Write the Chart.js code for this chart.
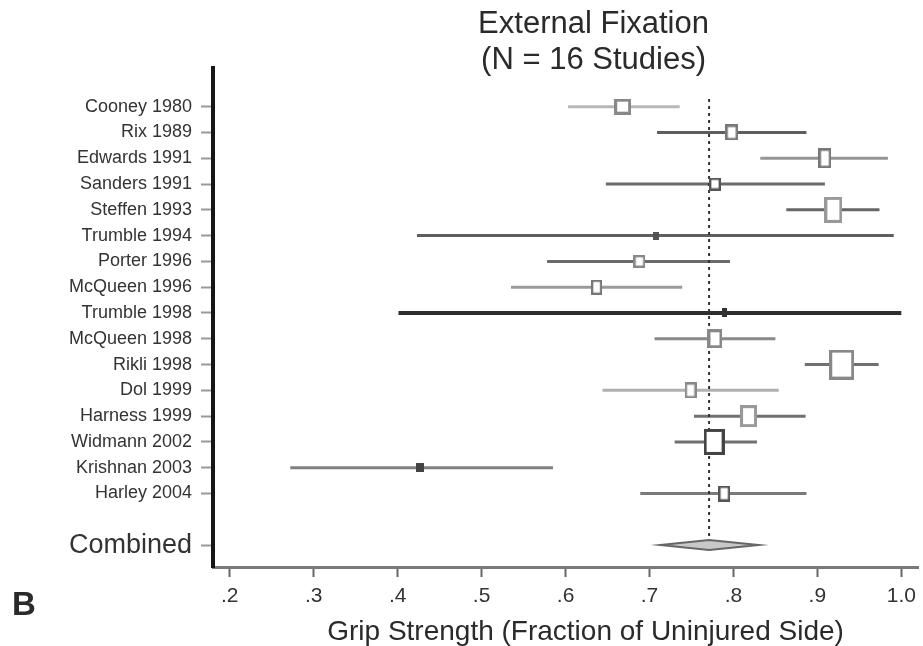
<!DOCTYPE html>
<html><head><meta charset="utf-8">
<script src="https://cdn.jsdelivr.net/npm/chart.js@4.4.1/dist/chart.umd.min.js"></script>
<style>html,body{margin:0;padding:0;background:#fff;}canvas{display:block;}</style>
</head><body>
<canvas id="c" width="923" height="646"></canvas>
<script>
// ---- data ----
const studies = ['Cooney 1980','Rix 1989','Edwards 1991','Sanders 1991','Steffen 1993','Trumble 1994','Porter 1996','McQueen 1996','Trumble 1998','McQueen 1998','Rikli 1998','Dol 1999','Harness 1999','Widmann 2002','Krishnan 2003','Harley 2004'];
const estimate = [0.668,0.798,0.909,0.778,0.919,0.708,0.688,0.637,0.789,0.778,0.929,0.749,0.818,0.777,0.427,0.789];
const lower    = [0.603,0.709,0.832,0.648,0.863,0.423,0.578,0.535,0.401,0.706,0.885,0.644,0.753,0.730,0.272,0.689];
const upper    = [0.736,0.887,0.984,0.909,0.974,0.991,0.796,0.739,1.000,0.850,0.973,0.854,0.886,0.828,0.585,0.887];
const combinedLabel = 'Combined';
const combinedValues = [0.713, 0.771, 0.830]; // lower, estimate, upper
const xTickValues = [0.2,0.3,0.4,0.5,0.6,0.7,0.8,0.9,1.0];
const xTickLabels = ['.2','.3','.4','.5','.6','.7','.8','.9','1.0'];
const titleLines = ['External Fixation','(N = 16 Studies)'];
const xAxisTitle = 'Grip Strength (Fraction of Uninjured Side)';
const panelLabel = 'B';

// ---- styles ----
const lineColors = ['#b8b8b8','#5e5e5e','#959595','#6a6a6a','#666666','#5e5e5e','#6a6a6a','#9a9a9a','#2e2e2e','#8a8a8a','#707070','#b0b0b0','#707070','#707070','#808080','#7a7a7a'];
const lineWidths = [3,3,3,3,3,3,3,3,4,3,3,3,3,3,3,3];
const boxW = [17,13,13,12,18,6,12,11,5,15,25,12,17,21,8,12];
const boxH = [16,16,20,13,26,8,13,15,9,19,30,16,22,26,9,16];
const boxStroke = ['#888','#777','#777','#555','#999','#555','#888','#777','#333','#888','#888','#888','#999','#444','#444','#555'];
const boxFill = ['#fff','#fff','#fff','#fff','#fff','#555','#fff','#fff','#333','#fff','#fff','#fff','#fff','#fff','#444','#fff'];
const FONT = '"Liberation Sans", Arial, sans-serif';
const combinedRow = studies.length + 1;

function makeBox(w, h, stroke, fill) {
  const c = document.createElement('canvas');
  c.width = w; c.height = h;
  const g = c.getContext('2d');
  const lw = Math.min(3, Math.max(1.5, Math.min(w, h) / 5));
  g.fillStyle = fill; g.fillRect(0, 0, w, h);
  g.strokeStyle = stroke; g.lineWidth = lw;
  g.strokeRect(lw / 2, lw / 2, w - lw, h - lw);
  return c;
}
const boxStyles = studies.map((s, i) => makeBox(boxW[i], boxH[i], boxStroke[i], boxFill[i]));

const ciDatasets = studies.map((s, i) => ({
  type: 'scatter', label: s + ' CI', showLine: true,
  data: [{x: lower[i], y: i}, {x: upper[i], y: i}],
  borderColor: lineColors[i], borderWidth: lineWidths[i], pointRadius: 0, order: 2
}));

const refLine = {
  type: 'scatter', label: 'combined estimate', showLine: true,
  data: [{x: combinedValues[1], y: -0.3}, {x: combinedValues[1], y: combinedRow}],
  borderColor: '#333', borderWidth: 2, borderDash: [3, 4], pointRadius: 0, order: 1
};

const boxes = {
  type: 'scatter', label: 'estimates',
  data: estimate.map((v, i) => ({x: v, y: i})),
  pointStyle: boxStyles, pointRadius: 3, pointHoverRadius: 3, order: 0
};

const drawExtras = {
  id: 'extras',
  afterDatasetsDraw(chart) {
    const {ctx, scales: {x, y}} = chart;
    const yc = y.getPixelForValue(combinedRow);
    const xl = x.getPixelForValue(combinedValues[0]);
    const xm = x.getPixelForValue(combinedValues[1]);
    const xh = x.getPixelForValue(combinedValues[2]);
    ctx.save();
    ctx.beginPath();
    ctx.moveTo(xl, yc); ctx.lineTo(xm, yc - 5); ctx.lineTo(xh, yc); ctx.lineTo(xm, yc + 5); ctx.closePath();
    ctx.fillStyle = '#c8c8c8'; ctx.fill();
    ctx.strokeStyle = '#666'; ctx.lineWidth = 2; ctx.stroke();
    ctx.restore();
  },
  afterDraw(chart) {
    const {ctx, chartArea} = chart;
    ctx.save();
    ctx.fillStyle = '#2a2a2a';
    ctx.textAlign = 'center'; ctx.textBaseline = 'middle';
    const cx = (chartArea.left + chartArea.right) / 2 + 28;
    ctx.font = '31px ' + FONT;
    titleLines.forEach((t, i) => ctx.fillText(t, cx, 24 + i * 36));
    ctx.font = '28px ' + FONT;
    ctx.fillText(xAxisTitle, (chartArea.left + chartArea.right) / 2 + 20, 632);
    ctx.textAlign = 'left';
    ctx.font = 'bold 33px ' + FONT;
    ctx.fillText(panelLabel, 12, 606);
    ctx.restore();
  }
};

new Chart(document.getElementById('c'), {
  type: 'scatter',
  data: {datasets: [boxes, refLine, ...ciDatasets]},
  options: {
    responsive: false, animation: false, devicePixelRatio: 1,
    layout: {padding: {top: 68, right: 1, bottom: 0, left: 0}},
    plugins: {legend: {display: false}, tooltip: {enabled: false}, title: {display: false}},
    scales: {
      x: {
        type: 'linear', min: 0.18, max: 1.02,
        afterBuildTicks: (s) => { s.ticks = xTickValues.map(v => ({value: v})); },
        afterFit: (s) => { s.height = 646 - 567; },
        ticks: {
          autoSkip: false, maxRotation: 0, padding: 7, color: '#333',
          font: {family: FONT, size: 21},
          callback: (v) => xTickLabels[xTickValues.findIndex(t => Math.abs(t - v) < 1e-6)]
        },
        grid: {drawOnChartArea: false, drawTicks: true, tickLength: 10, tickColor: '#666', tickWidth: 2},
        border: {display: true, color: '#7a7a7a', width: 3}
      },
      y: {
        type: 'linear', reverse: true, min: -1.5, max: 17.85,
        afterBuildTicks: (s) => { s.ticks = studies.map((t, i) => ({value: i})).concat([{value: combinedRow}]); },
        afterFit: (s) => { s.width = 213; },
        ticks: {
          autoSkip: false, padding: 9, color: '#333',
          font: (ctx) => ({family: FONT, size: ctx.tick && ctx.tick.value === combinedRow ? 27 : 18}),
          callback: (v) => v === combinedRow ? combinedLabel : studies[v]
        },
        grid: {drawOnChartArea: false, drawTicks: true, tickLength: 12, tickColor: '#999', tickWidth: 2},
        border: {display: true, color: '#161616', width: 4}
      }
    }
  },
  plugins: [drawExtras]
});
</script>
</body></html>
